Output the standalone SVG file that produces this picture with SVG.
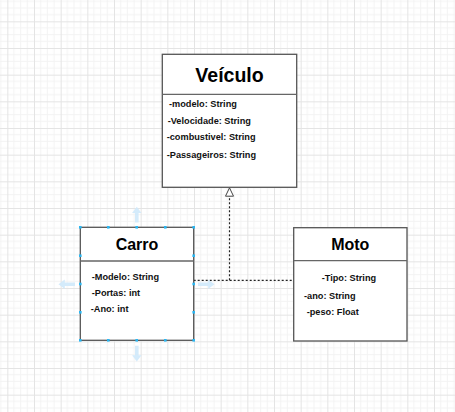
<svg xmlns="http://www.w3.org/2000/svg" width="455" height="412" viewBox="0 0 455 412">
<defs>
<pattern id="grid" x="7.33" y="21.33" width="26.667" height="26.667" patternUnits="userSpaceOnUse">
<path d="M6.67 0V26.667M13.33 0V26.667M20 0V26.667M0 6.67H26.667M0 13.33H26.667M0 20H26.667" stroke="#f3f3f3" stroke-width="1" fill="none"/>
<path d="M0.5 0V26.667M0 0.5H26.667" stroke="#e4e4e4" stroke-width="1" fill="none"/>
</pattern>
<style>
.box{fill:#fff;stroke:#555;stroke-width:1.3}
.div{stroke:#666;stroke-width:1.3}
.title{font-family:"Liberation Sans",Arial,sans-serif;font-weight:bold;fill:#000;text-anchor:middle}
.attr{font-family:"Liberation Sans",Arial,sans-serif;font-weight:bold;font-size:9.2px;fill:#111}
.conn{stroke:#222;stroke-width:1.2;fill:none;stroke-dasharray:2 2}
.h{fill:#29b6f2}
.ar{fill:#cfe9fb;opacity:0.9}
</style>
</defs>
<rect width="455" height="412" fill="#fff"/>
<rect width="455" height="412" fill="url(#grid)"/>

<g id="connectors">
<path class="conn" d="M193.7 280.3H293.7"/>
<path class="conn" d="M229.5 280.3V196"/>
<path d="M229.5 187.8L225.5 196.2H233.5Z" fill="#fff" stroke="#444" stroke-width="1"/>
</g>

<g id="veiculo">
<rect class="box" x="162.3" y="54.3" width="134.4" height="133"/>
<line class="div" x1="162.3" y1="94.3" x2="296.7" y2="94.3"/>
<text class="title" x="229.5" y="82.3" font-size="19.5">Veículo</text>
<text class="attr" x="169" y="107.3">-modelo: String</text>
<text class="attr" x="167.7" y="123.7">-Velocidade: String</text>
<text class="attr" x="166.7" y="140">-combustivel: String</text>
<text class="attr" x="166.7" y="158.3">-Passageiros: String</text>
</g>

<g id="carro">
<rect class="box" x="80.3" y="227.3" width="113.4" height="113"/>
<line class="div" x1="80.3" y1="261" x2="193.7" y2="261"/>
<text class="title" x="137" y="250" font-size="16">Carro</text>
<text class="attr" x="91.7" y="280">-Modelo: String</text>
<text class="attr" x="91.7" y="296.3">-Portas: int</text>
<text class="attr" x="90.7" y="312.3">-Ano: int</text>
</g>

<g id="moto">
<rect class="box" x="293.7" y="227.7" width="113.3" height="113.3"/>
<line class="div" x1="293.7" y1="260.7" x2="407" y2="260.7"/>
<text class="title" x="350.3" y="250" font-size="16">Moto</text>
<text class="attr" x="321.7" y="280.7">-Tipo: String</text>
<text class="attr" x="304" y="298.7">-ano: String</text>
<text class="attr" x="306.7" y="315.3">-peso: Float</text>
</g>

<g id="selection">
<rect class="h" x="79" y="226" width="2.6" height="2.6"/>
<rect class="h" x="107" y="226" width="2.6" height="2.6"/>
<rect class="h" x="135.4" y="226" width="2.6" height="2.6"/>
<rect class="h" x="164" y="226" width="2.6" height="2.6"/>
<rect class="h" x="192.4" y="226" width="2.6" height="2.6"/>
<rect class="h" x="79" y="339" width="2.6" height="2.6"/>
<rect class="h" x="107" y="339" width="2.6" height="2.6"/>
<rect class="h" x="135.4" y="339" width="2.6" height="2.6"/>
<rect class="h" x="164" y="339" width="2.6" height="2.6"/>
<rect class="h" x="192.4" y="339" width="2.6" height="2.6"/>
<rect class="h" x="79" y="254.4" width="2.6" height="2.6"/>
<rect class="h" x="79" y="282.7" width="2.6" height="2.6"/>
<rect class="h" x="79" y="311" width="2.6" height="2.6"/>
<rect class="h" x="192.4" y="254.4" width="2.6" height="2.6"/>
<rect class="h" x="192.4" y="282.7" width="2.6" height="2.6"/>
<rect class="h" x="192.4" y="311" width="2.6" height="2.6"/>
<path class="ar" d="M136.8 206.7L141.5 213H138.6V222.5H135V213H132.1Z"/>
<path class="ar" d="M136.8 361.5L141.5 355.2H138.6V345.7H135V355.2H132.1Z"/>
<path class="ar" d="M58.5 284.3L64.8 279.6V282.5H75V286.1H64.8V289Z"/>
<path class="ar" d="M214.5 284.3L208.2 279.6V282.5H198V286.1H208.2V289Z"/>
</g>
</svg>
